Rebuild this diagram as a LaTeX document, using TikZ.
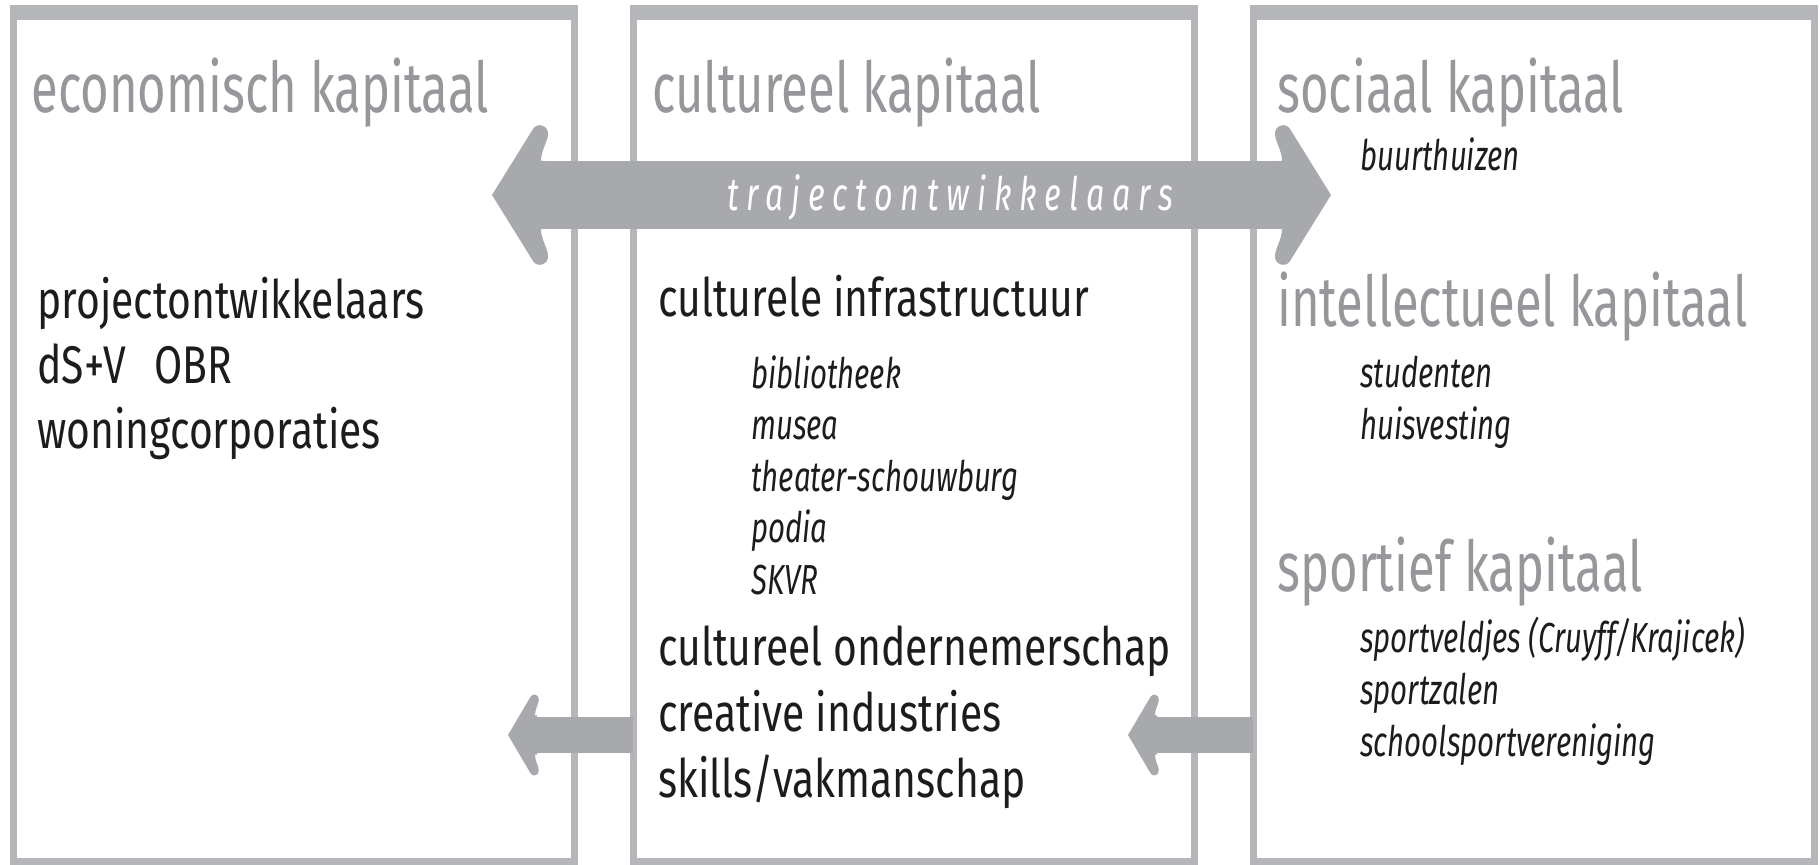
\documentclass[tikz,border=0pt]{standalone}
\usepackage{fontspec}
\setmainfont{Fira Sans}[FakeStretch=0.7]
\newfontfamily\itemfamily{Fira Sans}[FakeStretch=0.77]
\usepackage{tikz}
\usetikzlibrary{positioning}
\definecolor{boxgrey}{HTML}{B5B6BA}
\definecolor{arrowgrey}{HTML}{A8A9AD}
\definecolor{headgrey}{HTML}{96979B}
\definecolor{inkblack}{HTML}{1C1C1C}

\tikzset{
    % left-pointing head, tip at the origin
    headL/.pic={
        \fill[arrowgrey] (0,0) -- (41,-66) .. controls (45,-73) and (57,-70) .. (56,-60)
            .. controls (55,-52) and (49,-44) .. (49,-34) -- (53,-34) -- (53,34) -- (49,34)
            .. controls (49,44) and (55,52) .. (56,60) .. controls (57,70) and (45,73) .. (41,66) -- cycle;
    }
}

\begin{document}
\begin{tikzpicture}[
    x=0.5pt, y=-0.5pt,
    node distance=29.5pt,
    kbox/.style={rectangle, draw=boxgrey, line width=3.5pt, outer sep=0pt, inner sep=0pt, minimum width=280.5pt, minimum height=424.75pt},
    kop/.style={anchor=base west, inner sep=0pt, text=headgrey, font=\fontsize{35}{40}\selectfont},
    item/.style={anchor=base west, inner sep=0pt, text=inkblack, font=\itemfamily\fontsize{26.5}{32}\selectfont},
    sub/.style={anchor=base west, inner sep=0pt, text=inkblack, font=\fontsize{21}{25}\selectfont\itshape},
    trajtext/.style={anchor=base, inner sep=0pt, text=white, font={\fontsize{23}{27}\selectfont\itshape\addfontfeatures{LetterSpace=17}}},
    shaft/.style={draw=arrowgrey, line width=34pt},
    smallshaft/.style={draw=arrowgrey, line width=18pt},
]
    \useasboundingbox (0,0) rectangle (1820,865);

    % the three capital boxes
    \node[kbox] (eco) at (293.5,436.75) {};
    \node[kbox, right=of eco] (cult) {};
    \node[kbox, right=of cult] (soc) {};
    \foreach \b in {eco,cult,soc}
        \fill[boxgrey] ([shift={(-3.5,-7)}]\b.north west) rectangle ([shift={(3.5,8)}]\b.north east);

    % arrows
    \coordinate (tipL) at (492,195);
    \coordinate (tipR) at (1331,195);
    \coordinate (tipA) at (508,735);
    \coordinate (tipB) at (1128,735);
    \draw[shaft] ([xshift=24pt]tipL) -- ([xshift=-24pt]tipR);
    \pic at (tipL) {headL};
    \pic[xscale=-1] at (tipR) {headL};
    \draw[smallshaft] ([xshift=12.5pt]tipA) -- (tipA -| cult.west);
    \pic[xscale=0.55, yscale=0.58] at (tipA) {headL};
    \draw[smallshaft] ([xshift=12.5pt]tipB) -- (tipB -| soc.west);
    \pic[xscale=0.55, yscale=0.58] at (tipB) {headL};
    \node[trajtext] (traj) at (950,211) {trajectontwikkelaars};

    % economisch
    \node[kop] (ecohead) at (31,113) {economisch kapitaal};
    \foreach \t [count=\i] in {projectontwikkelaars, dS+V\hspace{14pt}OBR, woningcorporaties}
        \node[item] (eco-\i) at (37,{254+65*\i}) {\t};

    % cultureel
    \node[kop] (culthead) at (652,113) {cultureel kapitaal};
    \node[item] (infra) at (658,317) {culturele infrastructuur};
    \foreach \t [count=\i] in {bibliotheek, musea, theater-schouwburg, podia, SKVR}
        \node[sub] (infra-\i) at (751,{337+51.5*\i}) {\t};
    \foreach \t [count=\i] in {cultureel ondernemerschap, creative industries, skills/vakmanschap}
        \node[item] (cult-\i) at (658,{599+66*\i}) {\t};

    % sociaal, intellectueel, sportief
    \node[kop] (sochead) at (1277,113) {sociaal kapitaal};
    \node[sub] (buurt) at (1360,171) {buurthuizen};
    \node[kop] (inthead) at (1277,327) {intellectueel kapitaal};
    \node[sub] (stud) at (1360,388) {studenten};
    \node[sub] (huis) at (1360,440) {huisvesting};
    \node[kop] (sporthead) at (1277,592) {sportief kapitaal};
    \foreach \t [count=\i] in {sportveldjes (Cruyff/Krajicek), sportzalen, schoolsportvereniging}
        \node[sub] (sport-\i) at (1360,{600+52*\i}) {\t};
\end{tikzpicture}
\end{document}
